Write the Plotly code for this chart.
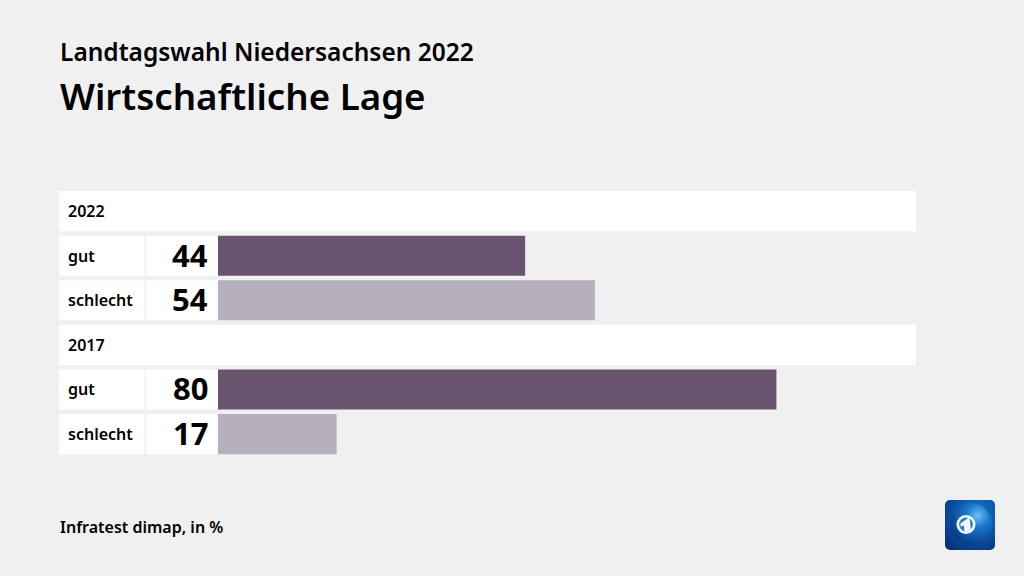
import base64
import plotly.graph_objects as go

supertitle = "Landtagswahl Niedersachsen 2022"
title = "Wirtschaftliche Lage"
source = "Infratest dimap, in %"
row_keys = ["h2022", "gut2022", "schlecht2022", "h2017", "gut2017", "schlecht2017"]
row_labels = ["2022", "gut", "schlecht", "2017", "gut", "schlecht"]
header_rows = ["h2022", "h2017"]
bar_rows = ["gut2022", "schlecht2022", "gut2017", "schlecht2017"]
bar_values = [44, 54, 80, 17]
bar_colors = ["#6a5470", "#b7afbb", "#6a5470", "#b7afbb"]

W, H = 1024, 576
X0, X1 = 59, 916
ZERO = 218
SCALE = 6.98
XMIN = (X0 - ZERO) / SCALE
XMAX = (X1 - ZERO) / SCALE
Y_TOP, Y_BOTTOM = 188.8, 456.4
FONT = "Noto Sans"
BG = "#f0f0f0"

logo_svg = """<svg xmlns='http://www.w3.org/2000/svg' width='100' height='100' viewBox='0 0 50 50'>
<defs>
<radialGradient id='g' cx='0.62' cy='0.32' r='0.8'><stop offset='0' stop-color='#1f7fd6'/><stop offset='0.55' stop-color='#0a56a8'/><stop offset='1' stop-color='#07307a'/></radialGradient>
<radialGradient id='s' cx='0.66' cy='0.3' r='0.7'><stop offset='0' stop-color='#6fc0f2'/><stop offset='0.4' stop-color='#1a78cc'/><stop offset='1' stop-color='#083f88'/></radialGradient>
</defs>
<rect x='0' y='0' width='50' height='50' rx='5' fill='url(#g)'/>
<circle cx='26' cy='24' r='21' fill='url(#s)'/>
<circle cx='21' cy='24.5' r='8.2' fill='#2b7fca' stroke='#f4f8fc' stroke-width='2.6'/>
<path d='M15.5 23.5 L24.5 17 L26 31 L19.5 32 L19 25.5 L15.5 26.5 Z' fill='#f4f8fc'/>
</svg>"""
logo_uri = "data:image/svg+xml;base64," + base64.b64encode(logo_svg.encode()).decode()

fig = go.Figure()

# white header bands
fig.add_trace(go.Bar(
    y=header_rows, x=[XMAX - XMIN] * len(header_rows), base=[XMIN] * len(header_rows),
    orientation="h", marker=dict(color="#ffffff", line_width=0), hoverinfo="skip", showlegend=False,
))
# white label cells
fig.add_trace(go.Bar(
    y=bar_rows, x=[(144.5 - X0) / SCALE] * 4, base=[XMIN] * 4,
    orientation="h", marker=dict(color="#ffffff", line_width=0), hoverinfo="skip", showlegend=False,
))
fig.add_trace(go.Bar(
    y=bar_rows, x=[(217.5 - 146) / SCALE] * 4, base=[(146 - ZERO) / SCALE] * 4,
    orientation="h", marker=dict(color="#ffffff", line_width=0), hoverinfo="skip", showlegend=False,
))
# data bars
fig.add_trace(go.Bar(
    y=bar_rows, x=bar_values, base=[0] * 4,
    orientation="h", marker=dict(color=bar_colors, line_width=0), showlegend=False,
))

annotations = []
for key, label in zip(row_keys, row_labels):
    annotations.append(dict(
        x=(66 - ZERO) / SCALE, y=key, xref="x", yref="y", text=label, showarrow=False,
        xanchor="left", yanchor="middle", yshift=0,
        font=dict(family=FONT, size=16, color="#000000", weight=600),
    ))
for key, value in zip(bar_rows, bar_values):
    annotations.append(dict(
        x=(210 - ZERO) / SCALE, y=key, xref="x", yref="y", text=str(value), showarrow=False,
        xanchor="right", yanchor="middle", yshift=1,
        font=dict(family=FONT, size=31, color="#000000", weight=700),
    ))
annotations += [
    dict(x=60 / W, y=1 - 52 / H, xref="paper", yref="paper", text=supertitle, showarrow=False,
         xanchor="left", yanchor="middle", xshift=-2, yshift=1,
         font=dict(family=FONT, size=24.5, color="#000000", weight=600)),
    dict(x=60 / W, y=1 - 97 / H, xref="paper", yref="paper", text=title, showarrow=False,
         xanchor="left", yanchor="middle", xshift=-2, yshift=1,
         font=dict(family=FONT, size=36.7, color="#000000", weight=600)),
    dict(x=60 / W, y=1 - 527 / H, xref="paper", yref="paper", text=source, showarrow=False,
         xanchor="left", yanchor="middle", xshift=-2,
         font=dict(family=FONT, size=16, color="#000000", weight=600)),
]

fig.update_layout(
    width=W, height=H, autosize=False,
    margin=dict(l=0, r=0, t=0, b=0, pad=0),
    paper_bgcolor=BG, plot_bgcolor=BG,
    barmode="overlay", bargap=0.1,
    xaxis=dict(domain=[X0 / W, X1 / W], range=[XMIN, XMAX], visible=False, fixedrange=True),
    yaxis=dict(domain=[1 - Y_BOTTOM / H, 1 - Y_TOP / H], type="category",
               categoryorder="array", categoryarray=row_keys, range=[5.5, -0.5],
               visible=False, fixedrange=True),
    annotations=annotations,
    images=[dict(source=logo_uri, xref="paper", yref="paper", x=945 / W, y=1 - 500 / H,
                 sizex=50 / W, sizey=50 / H, xanchor="left", yanchor="top",
                 sizing="stretch", layer="above")],
    showlegend=False,
)
fig.write_html(
    "out.html",
    config={"displayModeBar": False},
    post_script="document.body.style.margin='0';document.documentElement.style.overflow='hidden';document.documentElement.style.background='#f0f0f0';",
)
